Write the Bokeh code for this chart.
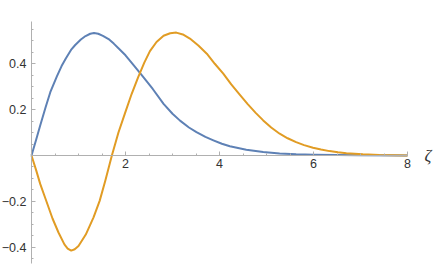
from bokeh.plotting import figure
from bokeh.models import FixedTicker, Label, Range1d
from bokeh.embed import file_html
from bokeh.resources import INLINE

# Data
zeta_blue = [0, 0.1, 0.185, 0.3, 0.40, 0.54, 0.64, 0.73, 0.85, 0.93, 1.05, 1.15, 1.25, 1.33,
             1.42, 1.52, 1.64, 1.75, 1.85, 2.0, 2.15, 2.35, 2.58, 2.81, 3.0, 3.16, 3.35, 3.51,
             3.7, 3.87, 4.05, 4.22, 4.57, 4.93, 5.28, 5.63, 6.0, 6.5, 7.0, 8.0]
psi_blue = [0, 0.07, 0.131, 0.21, 0.276, 0.345, 0.39, 0.423, 0.463, 0.482, 0.506, 0.521, 0.531, 0.534,
            0.531, 0.522, 0.508, 0.488, 0.468, 0.437, 0.40, 0.349, 0.29, 0.225, 0.182, 0.152, 0.122, 0.102,
            0.081, 0.066, 0.051, 0.040, 0.025, 0.015, 0.009, 0.0055, 0.0035, 0.002, 0.001, 0.0]

zeta_orange = [0, 0.1, 0.185, 0.3, 0.447, 0.574, 0.70, 0.77, 0.845, 0.92, 1.0, 1.155, 1.32, 1.45,
               1.57, 1.71, 1.85, 1.99, 2.13, 2.27, 2.40, 2.52, 2.66, 2.81, 2.95, 3.08, 3.22, 3.37,
               3.55, 3.73, 3.9, 4.08, 4.25, 4.43, 4.6, 4.77, 4.93, 5.1, 5.28, 5.45, 5.63, 5.8,
               5.99, 6.16, 6.34, 6.52, 6.70, 7.05, 7.4, 7.7, 8.0]
psi_orange = [0, -0.065, -0.124, -0.19, -0.275, -0.336, -0.388, -0.406, -0.415, -0.409, -0.395, -0.345, -0.27, -0.198,
              -0.11, 0.0, 0.10, 0.185, 0.268, 0.342, 0.405, 0.455, 0.495, 0.522, 0.533, 0.536, 0.528, 0.510,
              0.480, 0.444, 0.40, 0.357, 0.31, 0.265, 0.224, 0.186, 0.153, 0.122, 0.095, 0.075, 0.058, 0.045,
              0.034, 0.026, 0.019, 0.014, 0.010, 0.005, 0.002, 0.001, 0.0]

x_ticks = [2, 4, 6, 8]
x_minor = [0.5, 1, 1.5, 2.5, 3, 3.5, 4.5, 5, 5.5, 6.5, 7, 7.5]
y_ticks = [-0.4, -0.2, 0.2, 0.4]
y_minor = [round(-0.45 + 0.05 * i, 2) for i in range(21)]

BLUE = "#5E81B5"
ORANGE = "#E19C24"
AXIS = "#b0b0b0"
TEXT = "#333333"

p = figure(width=436, height=264, output_backend="svg", toolbar_location=None,
           x_range=Range1d(-0.6596, 8.617), y_range=Range1d(-0.4756, 0.676),
           min_border_left=0, min_border_right=0, min_border_top=0, min_border_bottom=0)
p.outline_line_color = None
p.grid.visible = False
p.background_fill_color = "white"

p.line(zeta_blue, psi_blue, line_color=BLUE, line_width=2, line_join="round")
p.line(zeta_orange, psi_orange, line_color=ORANGE, line_width=2, line_join="round")

xa = p.xaxis[0]
xa.fixed_location = 0
xa.bounds = (0, 8)
xa.ticker = FixedTicker(ticks=x_ticks, minor_ticks=x_minor)
ya = p.yaxis[0]
ya.fixed_location = 0
ya.bounds = (-0.47, 0.585)
ya.ticker = FixedTicker(ticks=y_ticks, minor_ticks=y_minor)

for ax in (xa, ya):
    ax.axis_line_color = AXIS
    ax.major_tick_line_color = AXIS
    ax.minor_tick_line_color = AXIS
    ax.major_tick_in = 4
    ax.major_tick_out = 0
    ax.minor_tick_in = 2
    ax.minor_tick_out = 0
    ax.major_label_text_font = "Liberation Sans"
    ax.major_label_text_font_size = "12.5px"
    ax.major_label_text_color = TEXT
xa.major_label_standoff = 4
ya.major_label_standoff = 5

p.add_layout(Label(x=8.36, y=0, text="ζ", text_font="Liberation Serif",
                   text_font_style="italic", text_font_size="17px",
                   text_color="#333333", text_baseline="middle", text_align="left"))

open("out.html", "w").write(file_html(p, INLINE))
